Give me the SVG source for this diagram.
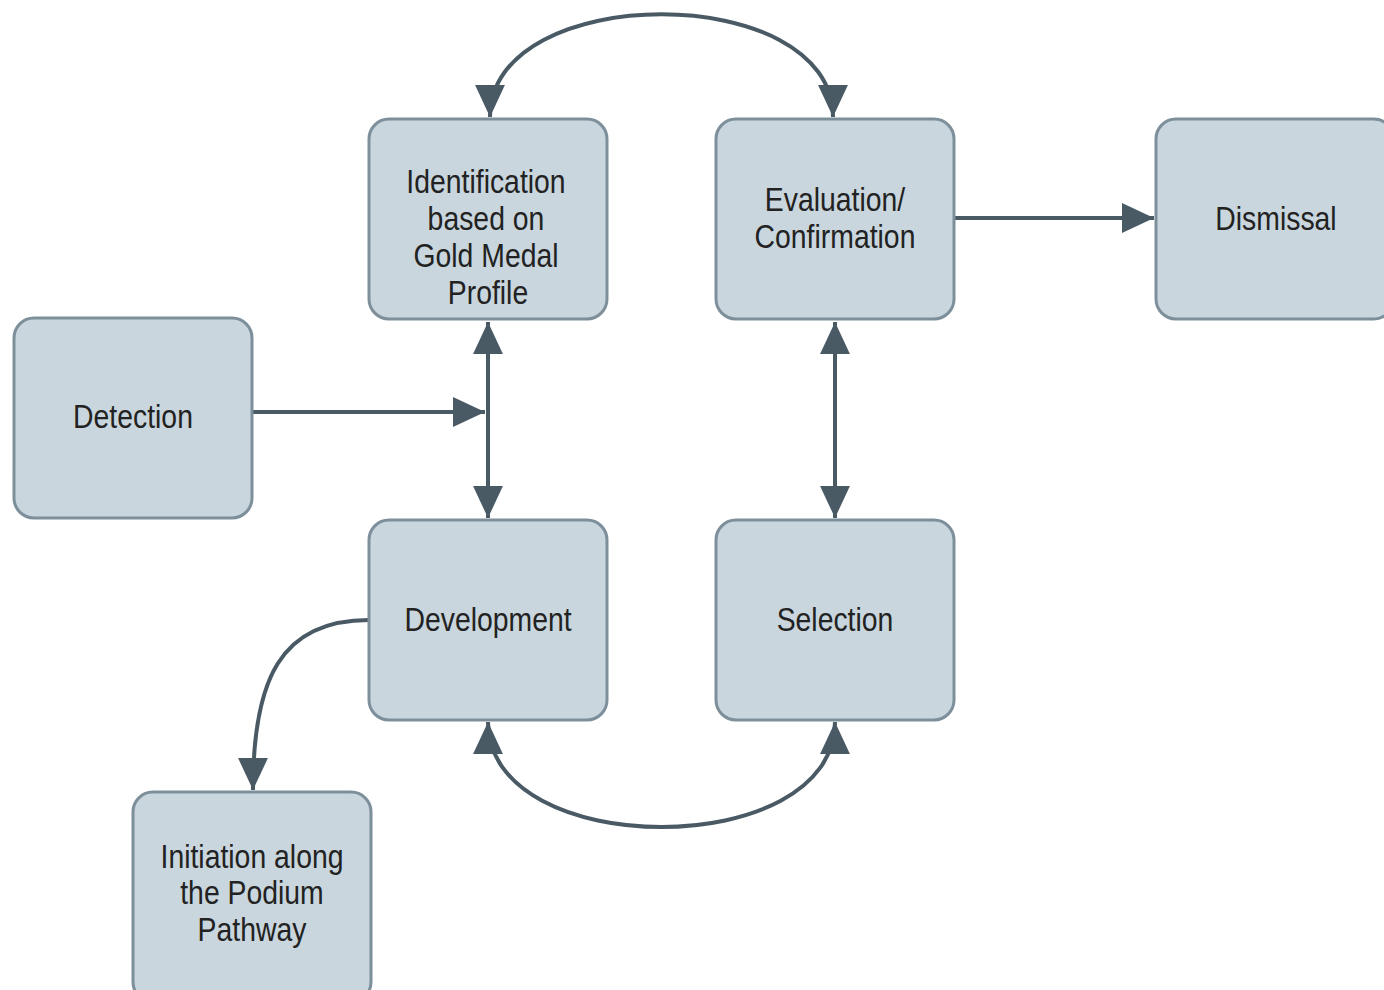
<svg xmlns="http://www.w3.org/2000/svg" width="1384" height="990" viewBox="0 0 1384 990">
<style>
.box{fill:#c9d6de;stroke:#7d8f9a;stroke-width:3}
.lbl{font-family:"Liberation Sans",Arial,sans-serif;font-size:33px;fill:#222;text-anchor:middle;transform-box:fill-box;transform-origin:center;transform:scaleX(0.86)}
.con{fill:none;stroke:#4a5a65;stroke-width:4}
</style>
<defs>
<marker id="ah" markerUnits="userSpaceOnUse" markerWidth="32" markerHeight="32" viewBox="0 0 30 30" refX="30" refY="15" orient="auto-start-reverse">
<path d="M0,1 L30,15 L0,29 Z" fill="#4a5a65"/>
</marker>
</defs>
<rect width="1384" height="990" fill="#ffffff"/>
<g id="connectors">
<path class="con" d="M490,117 C490,-20 833,-20 833,117" marker-start="url(#ah)" marker-end="url(#ah)"/>
<path class="con" d="M252,412 L485,412" marker-end="url(#ah)"/>
<path class="con" d="M488,322 L488,518" marker-start="url(#ah)" marker-end="url(#ah)"/>
<path class="con" d="M835,322 L835,518" marker-start="url(#ah)" marker-end="url(#ah)"/>
<path class="con" d="M955,218 L1154,218" marker-end="url(#ah)"/>
<path class="con" d="M488,722 C488,862 835,862 835,722" marker-start="url(#ah)" marker-end="url(#ah)"/>
<path class="con" d="M369,620 C280,620 253,680 253,790" marker-end="url(#ah)"/>
</g>
<g id="identification">
<rect class="box" x="369" y="119" width="238" height="200" rx="20"/>
<text class="lbl" x="486" y="193">Identification</text>
<text class="lbl" x="486" y="230">based on</text>
<text class="lbl" x="486" y="267">Gold Medal</text>
<text class="lbl" x="488" y="304">Profile</text>
</g>
<g id="evaluation">
<rect class="box" x="716" y="119" width="238" height="200" rx="20"/>
<text class="lbl" x="835" y="211">Evaluation/</text>
<text class="lbl" x="835" y="248">Confirmation</text>
</g>
<g id="dismissal">
<rect class="box" x="1156" y="119" width="238" height="200" rx="20"/>
<text class="lbl" x="1276" y="230">Dismissal</text>
</g>
<g id="detection">
<rect class="box" x="14" y="318" width="238" height="200" rx="20"/>
<text class="lbl" x="133" y="428">Detection</text>
</g>
<g id="development">
<rect class="box" x="369" y="520" width="238" height="200" rx="20"/>
<text class="lbl" x="488" y="631">Development</text>
</g>
<g id="selection">
<rect class="box" x="716" y="520" width="238" height="200" rx="20"/>
<text class="lbl" x="835" y="631">Selection</text>
</g>
<g id="initiation">
<rect class="box" x="133" y="792" width="238" height="210" rx="20"/>
<text class="lbl" x="252" y="868">Initiation along</text>
<text class="lbl" x="252" y="904">the Podium</text>
<text class="lbl" x="252" y="941">Pathway</text>
</g>
</svg>
